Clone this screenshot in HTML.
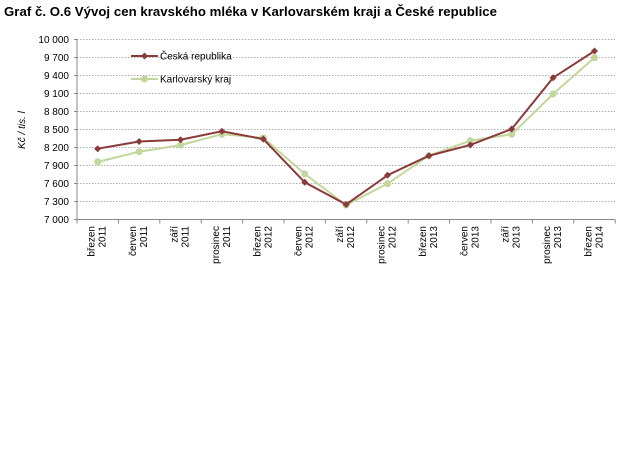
<!DOCTYPE html>
<html><head><meta charset="utf-8"><style>
html,body{margin:0;padding:0;background:#fff;width:626px;height:460px;overflow:hidden}
svg{font-family:"Liberation Sans",Arial,sans-serif;display:block}
</style></head><body>
<svg id="s" width="626" height="460" viewBox="0 0 626 460">
<text x="4" y="16" font-size="13.2" font-weight="bold" fill="#000" textLength="493">Graf č. O.6 Vývoj cen kravského mléka v Karlovarském kraji a České republice</text>
<text transform="translate(25,130) rotate(-90)" text-anchor="middle" font-size="10" font-style="italic">Kč / tis. l</text>
</svg>
<script>
var s=document.getElementById('s'),h='';
for(var i=0;i<=10;i++){var y=219.5-i*18;
 if(i>0)h+='<line x1="77" x2="615" y1="'+y+'" y2="'+y+'" stroke="#b0b0b0" stroke-width="1" stroke-dasharray="1.5,1.5"/>';
 var v=7000+300*i,t=v>=10000?'10 000':String(v).replace(/^(\d)(\d{3})$/,'$1 $2');
 h+='<text x="69" y="'+(y+3.5)+'" text-anchor="end" font-size="10">'+t+'</text>';
 h+='<line x1="74" x2="77" y1="'+y+'" y2="'+y+'" stroke="#888"/>';}
h+='<line x1="77" x2="77" y1="39" y2="219.5" stroke="#888"/><line x1="77" x2="615" y1="219.5" y2="219.5" stroke="#888"/>';
var lab=[['březen','2011'],['červen','2011'],['září','2011'],['prosinec','2011'],['březen','2012'],['červen','2012'],['září','2012'],['prosinec','2012'],['březen','2013'],['červen','2013'],['září','2013'],['prosinec','2013'],['březen','2014']];
for(var i=0;i<=13;i++){var x=77+41.4*i;h+='<line x1="'+x+'" x2="'+x+'" y1="219.5" y2="223.5" stroke="#888"/>';}
for(var i=0;i<13;i++){var x=97.7+41.4*i;
 h+='<text transform="translate('+(x-3)+',226) rotate(-90)" text-anchor="end" font-size="10">'+lab[i][0]+'</text>';
 h+='<text transform="translate('+(x+8)+',226) rotate(-90)" text-anchor="end" font-size="10">'+lab[i][1]+'</text>';}
var cr=[8180,8300,8330,8470,8340,7620,7250,7737,8063,8242,8508,9363,9808];
var kk=[7960,8130,8240,8420,8360,7760,7240,7597,8063,8313,8420,9092,9697];
function pts(a){return a.map(function(v,i){return (97.7+41.4*i)+','+(219.5-(v-7000)*0.06)}).join(' ')}
h+='<polyline points="'+pts(kk)+'" fill="none" stroke="#c3d69b" stroke-width="2"/>';
kk.forEach(function(v,i){h+='<circle cx="'+(97.7+41.4*i)+'" cy="'+(219.5-(v-7000)*0.06)+'" r="3.5" fill="#c3d69b"/>';});
h+='<polyline points="'+pts(cr)+'" fill="none" stroke="#8b3a3a" stroke-width="2"/>';
cr.forEach(function(v,i){var x=97.7+41.4*i,y=219.5-(v-7000)*0.06;h+='<path d="M'+x+' '+(y-3.5)+'L'+(x+3.5)+' '+y+'L'+x+' '+(y+3.5)+'L'+(x-3.5)+' '+y+'Z" fill="#8b3a3a"/>';});
h+='<line x1="131" x2="158" y1="56" y2="56" stroke="#8b3a3a" stroke-width="2"/><path d="M144.5 52.5L148 56L144.5 59.5L141 56Z" fill="#8b3a3a"/>';
h+='<text x="160" y="59.5" font-size="10">Česká republika</text>';
h+='<line x1="131" x2="158" y1="79" y2="79" stroke="#c3d69b" stroke-width="2"/><circle cx="144.5" cy="79" r="3.5" fill="#c3d69b"/>';
h+='<text x="160" y="82.5" font-size="10">Karlovarský kraj</text>';
s.insertAdjacentHTML('beforeend',h);
</script>
</body></html>
